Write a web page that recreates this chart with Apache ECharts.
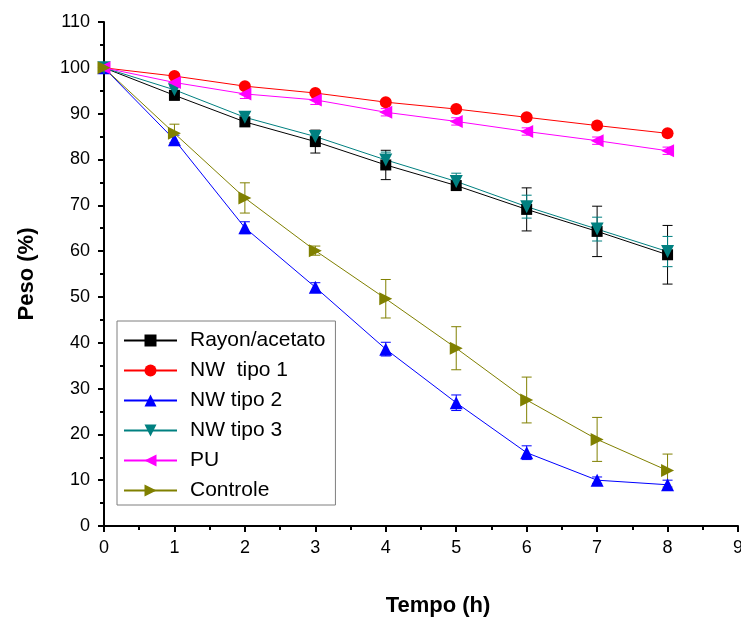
<!DOCTYPE html>
<html>
<head>
<meta charset="utf-8">
<script src="https://cdn.jsdelivr.net/npm/echarts@6/dist/echarts.min.js"></script>
<style>
  html, body { margin: 0; padding: 0; background: #fff; }
  #chart { width: 741px; height: 618px; }
</style>
</head>
<body>
<div id="chart"></div>
<script>
// time in hours
const tempo = [0, 1, 2, 3, 4, 5, 6, 7, 8]

// weight (%) per sample
const rayon = [100, 94.0, 88.2, 83.9, 78.8, 74.3, 69.1, 64.3, 59.2]
const nwTipo1 = [100, 98.2, 96.0, 94.5, 92.5, 91.0, 89.2, 87.4, 85.7]
const nwTipo2 = [100, 84.3, 65.1, 52.1, 38.6, 26.9, 16.0, 10.0, 9.0]
const nwTipo3 = [100, 95.2, 89.2, 85.0, 79.9, 75.2, 69.7, 64.8, 59.9]
const pu = [100, 96.8, 94.3, 93.0, 90.3, 88.3, 86.1, 84.1, 81.9]
const controle = [100, 85.7, 71.6, 60.1, 49.6, 38.8, 27.5, 18.9, 12.1]

// standard deviations
const rayonErr = [0, 1.0, 1.0, 2.5, 3.2, 1.0, 4.7, 5.5, 6.4]
const nwTipo1Err = [0, 0.5, 0.5, 0.5, 0.5, 0.5, 0.5, 0.5, 0.5]
const nwTipo2Err = [0, 1.0, 1.3, 1.0, 1.5, 1.7, 1.5, 0.7, 1.0]
const nwTipo3Err = [0, 0.8, 1.0, 1.3, 1.7, 1.8, 2.5, 2.6, 3.3]
const puErr = [0, 1.0, 1.0, 1.0, 0.8, 0.8, 0.8, 0.8, 0.8]
const controleErr = [0, 2.0, 3.3, 1.0, 4.2, 4.7, 5.0, 4.8, 3.6]

const seriesDefs = [
  { name: 'Rayon/acetato', values: rayon, err: rayonErr, color: '#000000', symbol: 'rect', size: 11 },
  { name: 'NW  tipo 1', values: nwTipo1, err: nwTipo1Err, color: '#ff0000', symbol: 'circle', size: 12 },
  { name: 'NW tipo 2', values: nwTipo2, err: nwTipo2Err, color: '#0000ff', symbol: 'path://M5,0 L10,9 L0,9 Z', size: 13 },
  { name: 'NW tipo 3', values: nwTipo3, err: nwTipo3Err, color: '#008080', symbol: 'path://M0,0 L10,0 L5,9 Z', size: 13 },
  { name: 'PU', values: pu, err: puErr, color: '#ff00ff', symbol: 'path://M9,0 L9,10 L0,5 Z', size: 13 },
  { name: 'Controle', values: controle, err: controleErr, color: '#808000', symbol: 'path://M0,0 L0,10 L9,5 Z', size: 13 }
]

const errorRender = (color) => (params, api) => {
  const x = api.value(0)
  const top = api.coord([x, api.value(2)])
  const bot = api.coord([x, api.value(1)])
  const w = 5
  const st = { stroke: color, lineWidth: 1 }
  return {
    type: 'group',
    children: [
      { type: 'line', shape: { x1: top[0], y1: top[1], x2: bot[0], y2: bot[1] }, style: st },
      { type: 'line', shape: { x1: top[0] - w, y1: top[1], x2: top[0] + w, y2: top[1] }, style: st },
      { type: 'line', shape: { x1: bot[0] - w, y1: bot[1], x2: bot[0] + w, y2: bot[1] }, style: st }
    ]
  }
}

const series = []
seriesDefs.forEach((s) => {
  series.push({
    name: s.name + ' err',
    type: 'custom',
    renderItem: errorRender(s.color),
    encode: { x: 0, y: [1, 2] },
    data: tempo.map((t, i) => [t, s.values[i] - s.err[i], s.values[i] + s.err[i]]),
    z: 1,
    silent: true
  })
})
seriesDefs.forEach((s) => {
  series.push({
    name: s.name,
    type: 'line',
    data: tempo.map((t, i) => [t, s.values[i]]),
    symbol: s.symbol,
    symbolSize: s.size,
    showAllSymbol: true,
    lineStyle: { color: s.color, width: 1 },
    itemStyle: { color: s.color },
    z: 3
  })
})

const axisFont = { fontFamily: 'Arial, "Liberation Sans", sans-serif', color: '#000' }

const chart = echarts.init(document.getElementById('chart'))
chart.setOption({
  animation: false,
  backgroundColor: '#fff',
  grid: { left: 104, right: 3, top: 22, bottom: 92, outerBoundsMode: 'none' },
  legend: {
    data: seriesDefs.map((s) => s.name),
    orient: 'vertical',
    left: 117,
    top: 321,
    padding: [9, 10, 4, 6],
    itemGap: 9,
    itemWidth: 53,
    itemHeight: 15,
    borderColor: '#7f7f7f',
    borderWidth: 1,
    textStyle: { ...axisFont, fontSize: 21, lineHeight: 20, padding: [0, 0, 0, 8] }
  },
  xAxis: {
    type: 'value',
    min: 0,
    max: 9,
    interval: 1,
    name: 'Tempo (h)',
    nameLocation: 'middle',
    nameGap: 69,
    nameTextStyle: { ...axisFont, fontSize: 22, fontWeight: 'bold', padding: [0, 0, 0, 34] },
    axisLine: { show: true, lineStyle: { color: '#000', width: 2 } },
    axisTick: { show: true, length: 6, lineStyle: { color: '#000', width: 2 } },
    minorTick: { show: true, splitNumber: 2, length: 4, lineStyle: { color: '#000', width: 2 } },
    axisLabel: { ...axisFont, fontSize: 18, margin: 13 },
    splitLine: { show: false }
  },
  yAxis: {
    type: 'value',
    min: 0,
    max: 110,
    interval: 10,
    name: 'Peso (%)',
    nameLocation: 'middle',
    nameGap: 66,
    nameTextStyle: { ...axisFont, fontSize: 22, fontWeight: 'bold' },
    axisLine: { show: true, lineStyle: { color: '#000', width: 2 } },
    axisTick: { show: true, length: 6, lineStyle: { color: '#000', width: 2 } },
    minorTick: { show: true, splitNumber: 2, length: 4, lineStyle: { color: '#000', width: 2 } },
    axisLabel: { ...axisFont, fontSize: 18, margin: 14 },
    splitLine: { show: false }
  },
  series: series
})
</script>
</body>
</html>
